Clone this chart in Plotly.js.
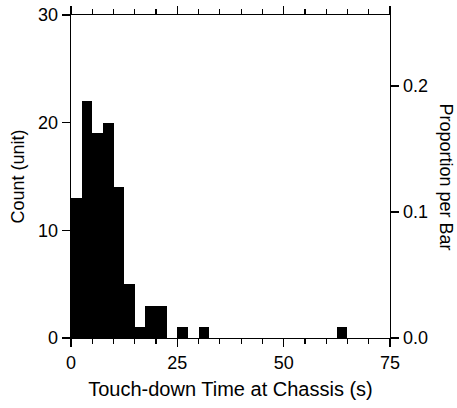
<!DOCTYPE html>
<html><head><meta charset="utf-8">
<script src="https://cdn.plot.ly/plotly-3.0.1.min.js"></script>
<style>html,body{margin:0;padding:0;background:#fff}#chart{width:457px;height:408px}</style>
</head><body><div id="chart"></div>
<script>
// Histogram bins (start of each 2.5 s bin) and counts
const binStarts = [0, 2.5, 5, 7.5, 10, 12.5, 15, 17.5, 20, 22.5, 25, 27.5, 30, 32.5, 35, 37.5, 40, 42.5, 45, 47.5, 50, 52.5, 55, 57.5, 60, 62.5, 65, 67.5, 70, 72.5];
const counts    = [13, 22, 19, 20, 14, 5, 1, 3, 3, 0, 1, 0, 1, 0, 0, 0, 0, 0, 0, 0, 0, 0, 0, 0, 0, 1, 0, 0, 0, 0];
const binWidth = 2.5;
const xTickVals = [0, 25, 50, 75];
const yTickVals = [0, 10, 20, 30];
const propTickVals = [0, 0.1, 0.2];
const propTickText = ['0.0', '0.1', '0.2'];
const countMax = 30;
const propMax = 0.2562;

const tickFont = {family: 'Liberation Sans, Arial, sans-serif', size: 18, color: '#000'};
const yTitleFont = {family: 'Liberation Sans, Arial, sans-serif', size: 18, color: '#000'};
const xTitleFont = {family: 'Liberation Sans, Arial, sans-serif', size: 20, color: '#000'};

const traces = [{
  type: 'bar',
  x: binStarts,
  y: counts,
  width: binWidth,
  offset: 0,
  marker: {color: '#000', line: {width: 0}},
  hoverinfo: 'skip',
  xaxis: 'x', yaxis: 'y'
}, {
  type: 'scatter', mode: 'markers',
  x: [0], y: [0], xaxis: 'x', yaxis: 'y2',
  marker: {opacity: 0}, hoverinfo: 'skip', showlegend: false
}];

const layout = {
  width: 457, height: 408,
  margin: {l: 71, r: 67, t: 15, b: 70},
  paper_bgcolor: '#fff', plot_bgcolor: '#fff',
  font: tickFont,
  showlegend: false,
  bargap: 0,
  xaxis: {
    range: [0, 75], tickvals: xTickVals, ticks: 'outside', ticklen: 8, tickwidth: 1.4,
    tickcolor: '#000', showline: true, linecolor: '#000', linewidth: 1.4, mirror: 'ticks',
    showgrid: false, zeroline: false, tickfont: tickFont,
    minor: {dtick: 5, tick0: 0, ticks: 'outside', ticklen: 5, tickwidth: 1.2, tickcolor: '#000', showgrid: false},
    title: {text: 'Touch-down Time at Chassis (s)', font: xTitleFont, standoff: 10}
  },
  yaxis: {
    range: [0, countMax], tickvals: yTickVals, ticks: 'outside', ticklen: 8, tickwidth: 1.4,
    tickcolor: '#000', showline: true, linecolor: '#000', linewidth: 1.4,
    showgrid: false, zeroline: false, tickfont: tickFont,
    title: {text: 'Count (unit)', font: yTitleFont, standoff: 8}
  },
  yaxis2: {
    overlaying: 'y', side: 'right', range: [0, propMax],
    tickvals: propTickVals, ticktext: propTickText, ticks: 'outside', ticklen: 8, tickwidth: 1.4,
    tickcolor: '#000', showline: true, linecolor: '#000', linewidth: 1.4,
    showgrid: false, zeroline: false, tickfont: tickFont
  },
  annotations: [{
    text: 'Proportion per Bar', textangle: 90, font: yTitleFont,
    xref: 'paper', yref: 'paper', x: 1, xshift: 56, y: 0.5,
    xanchor: 'center', yanchor: 'middle', showarrow: false
  }]
};

Plotly.newPlot('chart', traces, layout, {staticPlot: true, displayModeBar: false});
</script></body></html>
